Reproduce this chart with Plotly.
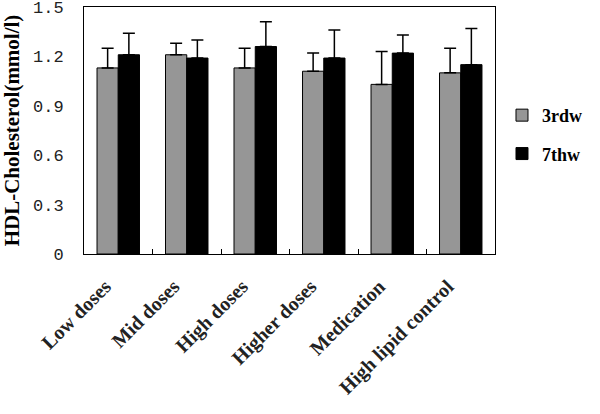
import plotly.graph_objects as go

categories = ["Low doses", "Mid doses", "High doses", "Higher doses", "Medication", "High lipid control"]
series_names = ["3rdw", "7thw"]
w3_values = [1.13, 1.21, 1.13, 1.11, 1.03, 1.10]
w3_err = [0.12, 0.07, 0.12, 0.11, 0.20, 0.15]
w7_values = [1.21, 1.19, 1.26, 1.19, 1.22, 1.15]
w7_err = [0.13, 0.11, 0.15, 0.17, 0.11, 0.22]
y_ticks = [0, 0.3, 0.6, 0.9, 1.2, 1.5]
y_tick_labels = ["0", "0.3", "0.6", "0.9", "1.2", "1.5"]

colors = ["#969696", "#000000"]

fig = go.Figure()
for name, vals, errs, col, grp in [
    (series_names[0], w3_values, w3_err, colors[0], "a"),
    (series_names[1], w7_values, w7_err, colors[1], "b"),
]:
    fig.add_trace(go.Bar(
        x=categories, y=vals, name=name, legendgroup=grp,
        marker=dict(color=col, line=dict(color="#000000", width=1)),
        error_y=dict(type="data", array=errs, arrayminus=[0] * len(errs),
                     symmetric=False, color="#000000", thickness=1.5, width=6),
    ))

fig.update_layout(
    width=600, height=414,
    margin=dict(l=84, r=105, t=7, b=160, autoexpand=False),
    paper_bgcolor="white", plot_bgcolor="white",
    barmode="group", bargap=0.38, bargroupgap=0,
    showlegend=True,
    legend=dict(x=1.017, y=0.484, xanchor="left", yanchor="middle",
                itemwidth=30,
                font=dict(family="Liberation Serif", size=18, color="#000000", weight="bold"),
                traceorder="grouped", tracegroupgap=12,
                bgcolor="rgba(0,0,0,0)"),
    font=dict(family="Liberation Serif", color="#000000"),
)
fig.update_xaxes(
    showline=True, linecolor="#000000", linewidth=1, mirror=True,
    ticks="inside", ticklen=5, tickcolor="#000000", tickson="boundaries",
    tickangle=-45, showgrid=False, ticklabelstandoff=12, ticklabelshift=-13,
    tickfont=dict(family="Liberation Serif", size=20, color="#222222", weight="bold"),
)
fig.update_yaxes(
    range=[0, 1.5], tickvals=y_ticks, ticktext=y_tick_labels,
    showline=True, linecolor="#000000", linewidth=1, mirror=True,
    ticks="", showgrid=False, zeroline=False, ticklabelstandoff=16,
    ticklabeloverflow="allow",
    tickfont=dict(family="Liberation Mono", size=17, color="#222222"),
    title=dict(text="HDL-Cholesterol(mmol/l)", standoff=8,
               font=dict(family="Liberation Serif", size=21, color="#000000", weight="bold")),
)

fig.write_html("out.html", config={"displayModeBar": False},
               post_script="document.body.style.margin='0';document.body.style.padding='0';")
